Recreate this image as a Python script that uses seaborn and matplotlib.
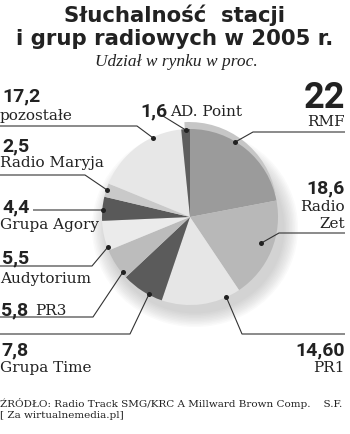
import numpy as np
import matplotlib
matplotlib.use("Agg")
import matplotlib.pyplot as plt
import seaborn as sns
from matplotlib.patches import Wedge, Ellipse

# ---- data ----
stations = ["RMF", "Radio Zet", "PR1", "Grupa Time", "PR3", "Audytorium",
            "Grupa Agory", "Radio Maryja", "pozostałe", "AD. Point"]
shares = [22, 18.6, 14.6, 7.8, 5.8, 5.5, 4.4, 2.5, 17.2, 1.6]
share_labels = ["22", "18,6", "14,60", "7,8", "5,8", "5,5", "4,4", "2,5", "17,2", "1,6"]
title_lines = ["Słuchalność  stacji", "i grup radiowych w 2005 r."]
subtitle = "Udział w rynku w proc."
source_lines = ["ŹRÓDŁO: Radio Track SMG/KRC A Millward Brown Comp.    S.F.",
                "[ Za wirtualnemedia.pl]"]

# ---- styles ----
slice_colors = ["#9b9b9b", "#b8b8b8", "#e6e6e6", "#5b5b5b", "#bcbcbc",
                "#ebebeb", "#595959", "#c9c9c9", "#e7e7e7", "#5e5e5e"]
TXT = "#222222"

sns.set_theme(style="white")
plt.rcParams["font.family"] = ["DejaVu Sans"]

W, H = 350, 435
fig = plt.figure(figsize=(W / 100, H / 100), dpi=100)
ax = fig.add_axes([0, 0, 1, 1])
Y = lambda y: H - y

cx, cy, R = 190, 218, 88

# soft shadow under the pie
for i in range(10):
    ax.add_patch(Ellipse((cx + 5, Y(cy + 11)), 2 * R + 30 - 3 * i, 2 * R + 22 - 3 * i,
                         color="#7a7a7a", alpha=0.035, lw=0, zorder=0.2))

# pie
wedges, _ = ax.pie(shares, colors=slice_colors, startangle=90, counterclock=False,
                   center=(cx, Y(cy)), radius=R, wedgeprops=dict(linewidth=0))
for w in wedges:
    w.set_zorder(1)

# cumulative angles
ends = 90 - np.cumsum(shares) / sum(shares) * 360
starts = np.concatenate([[90], ends[:-1]])

# lighter rim behind RMF slice (3D look)
ax.add_patch(Wedge((cx - 1, Y(cy) + 7), R, ends[0], starts[0] + 3,
                   color="#c6c6c6", lw=0, zorder=0.8))

# ---- annotation layout (image pixel coords) ----
# fraction within wedge (from end angle), dot radius, path to label
layout = {
    "RMF":          (0.61, 87, [(253, 133), (345, 133)]),
    "Radio Zet":    (0.54, 76, [(279, 234), (345, 234)]),
    "PR1":          (0.82, 88, [(242, 335), (345, 335)]),
    "Grupa Time":   (0.67, 87, [(130, 335), (0, 335)]),
    "PR3":          (0.82, 87, [(93, 318), (0, 318)]),
    "Audytorium":   (0.88, 87, [(92, 267), (0, 267)]),
    "Grupa Agory":  (0.55, 87, [(33, 211)]),
    "Radio Maryja": (0.48, 87, [(85, 176), (0, 176)]),
    "pozostałe":    (0.31, 87, [(137, 127), (0, 127)]),
    "AD. Point":    (0.47, 87, [(163, 117)]),
}

for i, name in enumerate(stations):
    f, r, path = layout[name]
    th = np.deg2rad(ends[i] + f * (starts[i] - ends[i]))
    dx, dy = cx + r * np.cos(th), Y(cy) + r * np.sin(th)
    xs = [dx] + [p[0] for p in path]
    ys = [dy] + [Y(p[1]) for p in path]
    ax.plot(xs, ys, color="#333333", lw=0.8, zorder=3, solid_capstyle="butt")
    ax.scatter([dx], [dy], s=13, color="#222222", zorder=4, linewidths=0)

NUM = dict(family="Roboto", weight="bold", color=TXT, fontsize=14)
LAB = dict(family="DejaVu Serif", color=TXT, fontsize=11)

def num(x, y, s, ha="left", **kw):
    d = dict(NUM); d.update(kw)
    ax.text(x, Y(y), s, ha=ha, va="baseline", **d)

def lab(x, y, s, ha="left", **kw):
    d = dict(LAB); d.update(kw)
    ax.text(x, Y(y), s, ha=ha, va="baseline", **d)

lbl = dict(zip(stations, share_labels))
# left side
num(2, 101, lbl["pozostałe"]); lab(0, 120, "pozostałe")
num(2, 151, lbl["Radio Maryja"]); lab(0, 167, "Radio Maryja")
num(2, 212, lbl["Grupa Agory"]); lab(0, 229, "Grupa Agory")
num(2, 263, lbl["Audytorium"]); lab(0, 283, "Audytorium")
num(1, 315, lbl["PR3"]); lab(35, 315, "PR3")
num(1, 355, lbl["Grupa Time"]); lab(0, 372, "Grupa Time")
# top
num(140, 116, lbl["AD. Point"]); lab(170, 116, "AD. Point")
# right side
num(345, 108, lbl["RMF"], ha="right", fontsize=26)
lab(345, 126, "RMF", ha="right")
num(345, 193, lbl["Radio Zet"], ha="right")
lab(345, 211, "Radio", ha="right")
lab(345, 228, "Zet", ha="right")
num(345, 355, lbl["PR1"], ha="right")
lab(345, 372, "PR1", ha="right")

# titles
ax.text(175, Y(22), title_lines[0], ha="center", va="baseline", family="DejaVu Sans",
        weight="bold", fontsize=15.3, color=TXT)
ax.text(175, Y(45), title_lines[1], ha="center", va="baseline", family="DejaVu Sans",
        weight="bold", fontsize=15.3, color=TXT)
ax.text(176, Y(66), subtitle, ha="center", va="baseline", family="Liberation Serif",
        style="italic", fontsize=12.5, color=TXT)

# source
ax.text(0, Y(407), source_lines[0], ha="left", va="baseline", family="DejaVu Serif",
        fontsize=7.5, color=TXT)
ax.text(0, Y(418), source_lines[1], ha="left", va="baseline", family="DejaVu Serif",
        fontsize=7.5, color=TXT)

ax.set_xlim(0, W)
ax.set_ylim(0, H)
ax.set_aspect("equal")
ax.axis("off")
fig.savefig("out.png", dpi=100, facecolor="white")
